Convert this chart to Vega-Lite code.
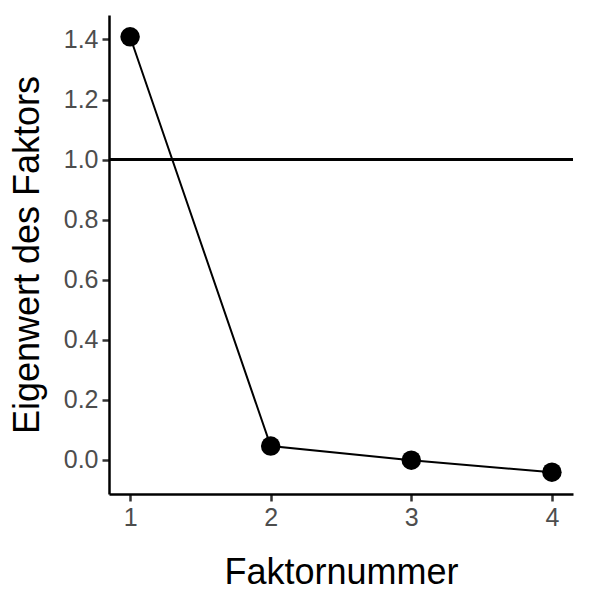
{
  "$schema": "https://vega.github.io/schema/vega-lite/v6.json",
  "autosize": "none",
  "width": 464,
  "height": 479,
  "padding": {"left": 109, "top": 15, "right": 18, "bottom": 97},
  "background": "white",
  "config": {
    "view": {"stroke": null},
    "font": "Liberation Sans",
    "axis": {
      "grid": false,
      "domainColor": "black",
      "domainWidth": 2.5,
      "tickColor": "#333333",
      "tickWidth": 2.5,
      "tickSize": 7,
      "labelPadding": 4,
      "labelColor": "#4D4D4D",
      "labelFont": "Liberation Sans",
      "labelFontSize": 25,
      "titleFont": "Liberation Sans",
      "titleFontSize": 36,
      "titleFontWeight": "normal",
      "titleColor": "black"
    }
  },
  "data": {
    "values": [
      {"Faktornummer": 1, "Eigenwert": 1.409},
      {"Faktornummer": 2, "Eigenwert": 0.045},
      {"Faktornummer": 3, "Eigenwert": -0.002},
      {"Faktornummer": 4, "Eigenwert": -0.042}
    ]
  },
  "encoding": {
    "x": {
      "field": "Faktornummer",
      "type": "quantitative",
      "scale": {"domain": [0.85, 4.15], "nice": false, "zero": false},
      "axis": {"values": [1, 2, 3, 4], "format": "d", "title": "Faktornummer", "titlePadding": 25}
    },
    "y": {
      "field": "Eigenwert",
      "type": "quantitative",
      "scale": {"domain": [-0.1146, 1.4816], "nice": false, "zero": false},
      "axis": {"values": [0, 0.2, 0.4, 0.6, 0.8, 1.0, 1.2, 1.4], "format": ".1f", "title": "Eigenwert des Faktors", "titlePadding": 17}
    }
  },
  "layer": [
    {
      "mark": {"type": "rule", "color": "black", "strokeWidth": 2.5},
      "encoding": {"y": {"datum": 1.0}, "x": null}
    },
    {
      "mark": {"type": "line", "color": "black", "strokeWidth": 2}
    },
    {
      "mark": {"type": "point", "filled": true, "color": "black", "opacity": 1, "size": 380}
    }
  ]
}
